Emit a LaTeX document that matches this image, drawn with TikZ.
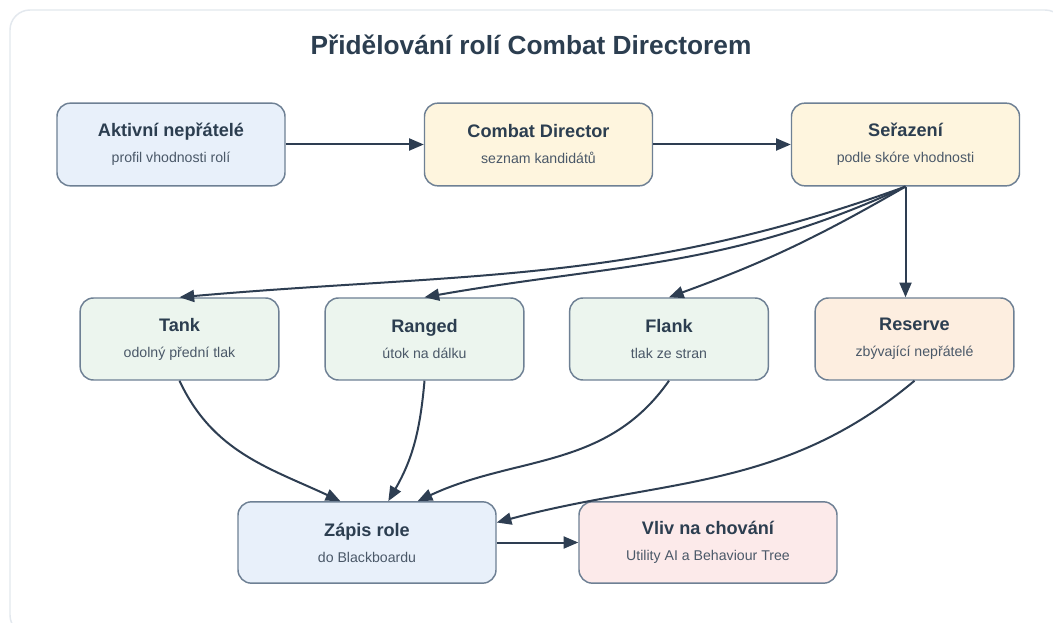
\documentclass[tikz,border=0pt]{standalone}
\usepackage{fontspec}
\setmainfont{Liberation Sans}
\usetikzlibrary{arrows.meta}

\definecolor{framegray}{HTML}{E3E8EE}
\definecolor{boxline}{HTML}{6E8094}
\definecolor{arrowcol}{HTML}{2E3E52}
\definecolor{titlecol}{HTML}{2C3E50}
\definecolor{subcol}{HTML}{4A5868}
\definecolor{bluefill}{HTML}{E8F0FA}
\definecolor{yellowfill}{HTML}{FEF5DE}
\definecolor{greenfill}{HTML}{ECF5EE}
\definecolor{orangefill}{HTML}{FDEEE0}
\definecolor{pinkfill}{HTML}{FCEAEA}

\begin{document}
\begin{tikzpicture}[x=0.75pt, y=-0.75pt,
    rolebox/.style={draw=boxline, line width=1.1pt, rounded corners=10pt,
        align=center, text=subcol, font=\fontsize{10.6}{19.5}\selectfont},
    toprow/.style={rolebox, minimum width=171pt, minimum height=62pt},
    midrow/.style={rolebox, minimum width=149pt, minimum height=61.5pt},
    lowrow/.style={rolebox, minimum width=193.5pt, minimum height=61pt},
    flow/.style={draw=arrowcol, line width=1.5pt,
        -{Triangle[length=11pt, width=9pt]}}]

    % Canvas and outer frame
    \clip (0,0) rectangle (1053,623);
    \fill[white] (0,0) rectangle (1053,623);
    \draw[framegray, line width=1.1pt, rounded corners=15pt] (10,10) rectangle (1065,635);

    % Title
    \node[text=titlecol, font=\fontsize{19.7}{24}\selectfont\bfseries] (title) at (531,45)
        {Přidělování rolí Combat Directorem};

    % Top row
    \node[toprow, fill=bluefill] (aktivni) at (171,144.5)
        {{\color{titlecol}\fontsize{13.6}{19.5}\selectfont\bfseries Aktivní nepřátelé}\\profil vhodnosti rolí};
    \node[toprow, fill=yellowfill] (director) at (538.5,144.5)
        {{\color{titlecol}\fontsize{13.6}{19.5}\selectfont\bfseries Combat Director}\\seznam kandidátů};
    \node[toprow, fill=yellowfill] (serazeni) at (905.5,144.5)
        {{\color{titlecol}\fontsize{13.6}{19.5}\selectfont\bfseries Seřazení}\\podle skóre vhodnosti};

    % Roles
    \node[midrow, fill=greenfill] (tank) at (179.5,339)
        {{\color{titlecol}\fontsize{13.6}{19.5}\selectfont\bfseries Tank}\\odolný přední tlak};
    \node[midrow, fill=greenfill] (ranged) at (424.5,339)
        {{\color{titlecol}\fontsize{13.6}{19.5}\selectfont\bfseries Ranged}\\útok na dálku};
    \node[midrow, fill=greenfill] (flank) at (669,339)
        {{\color{titlecol}\fontsize{13.6}{19.5}\selectfont\bfseries Flank}\\tlak ze stran};
    \node[midrow, fill=orangefill] (reserve) at (914.5,339)
        {{\color{titlecol}\fontsize{13.6}{19.5}\selectfont\bfseries Reserve}\\zbývající nepřátelé};

    % Bottom row
    \node[lowrow, fill=bluefill] (zapis) at (367,542.5)
        {{\color{titlecol}\fontsize{13.6}{19.5}\selectfont\bfseries Zápis role}\\do Blackboardu};
    \node[lowrow, fill=pinkfill] (vliv) at (708,542.5)
        {{\color{titlecol}\fontsize{13.6}{19.5}\selectfont\bfseries Vliv na chování}\\Utility AI a Behaviour Tree};

    % Pipeline
    \draw[flow] (aktivni) -- (director);
    \draw[flow] (director) -- (serazeni);

    % Sorting to roles
    \draw[flow] (serazeni.south) to[out=-160, in=5] (tank.north);
    \draw[flow] (serazeni.south) to[out=-155, in=10] (ranged.north);
    \draw[flow] (serazeni.south) to[out=-150, in=20] (flank.north);
    \draw[flow] (serazeni.south) -- (serazeni.south |- reserve.north);

    % Roles to blackboard
    \draw[flow] (tank.south) to[out=-65, in=155] ([xshift=-20pt]zapis.north);
    \draw[flow] (ranged.south) to[out=-95, in=60] ([xshift=16pt]zapis.north);
    \draw[flow] (flank.south) to[out=-125, in=25] ([xshift=38pt]zapis.north);
    \draw[flow] (reserve.south) to[out=-140, in=15] ([yshift=15pt]zapis.east);

    \draw[flow] (zapis) -- (vliv);

\end{tikzpicture}
\end{document}
